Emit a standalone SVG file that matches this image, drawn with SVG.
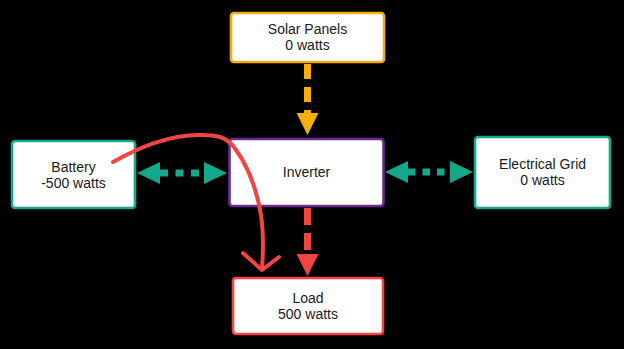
<svg xmlns="http://www.w3.org/2000/svg" width="624" height="349" viewBox="0 0 624 349">
<style>
.box{fill:#ffffff;stroke-width:2.6}
.lbl{font-family:"Liberation Sans",Arial,sans-serif;font-size:14px;fill:#1a1a1a;text-anchor:middle}
.orange{stroke:#F7AE0B}
.teal{stroke:#13A98A}
.purple{stroke:#6A2A8F}
.red{stroke:#F44343}
</style>
<defs>
<marker id="hOrange" viewBox="0 0 22 22" markerWidth="22" markerHeight="22" refX="0" refY="11" orient="auto-start-reverse" markerUnits="userSpaceOnUse"><path d="M0,0 L22,11 L0,22 z" fill="#F7AE0B"/></marker>
<marker id="hTeal" viewBox="0 0 23 22" markerWidth="23" markerHeight="22" refX="0" refY="11" orient="auto-start-reverse" markerUnits="userSpaceOnUse"><path d="M0,0 L23,11 L0,22 z" fill="#13A98A"/></marker>
<marker id="hRed" viewBox="0 0 22 22" markerWidth="22" markerHeight="22" refX="0" refY="11" orient="auto-start-reverse" markerUnits="userSpaceOnUse"><path d="M0,0 L22,11 L0,22 z" fill="#F44343"/></marker>
</defs>
<rect x="0" y="0" width="624" height="349" fill="#000000"/>
<g id="connectors">
<line x1="307.5" y1="64" x2="307.5" y2="113" stroke="#F7AE0B" stroke-width="7" stroke-dasharray="15 8" marker-end="url(#hOrange)"/>
<line x1="160" y1="173" x2="204" y2="173" stroke="#13A98A" stroke-width="7" stroke-dasharray="8 7.5" marker-start="url(#hTeal)" marker-end="url(#hTeal)"/>
<line x1="408" y1="172" x2="450" y2="172" stroke="#13A98A" stroke-width="7" stroke-dasharray="7.5 7" marker-start="url(#hTeal)" marker-end="url(#hTeal)"/>
<line x1="307.5" y1="208" x2="307.5" y2="254" stroke="#F44343" stroke-width="7" stroke-dasharray="17 8" marker-end="url(#hRed)"/>
</g>
<g id="solar">
<rect class="box orange" x="231" y="13" width="153" height="49" rx="3"/>
<text class="lbl" x="307.5" y="34">Solar Panels</text>
<text class="lbl" x="307.5" y="50">0 watts</text>
</g>
<g id="battery">
<rect class="box teal" x="12" y="141" width="123" height="67" rx="3"/>
<text class="lbl" x="73.5" y="172">Battery</text>
<text class="lbl" x="73.5" y="188">-500 watts</text>
</g>
<g id="inverter">
<rect class="box purple" x="229.5" y="139" width="154" height="67" rx="3"/>
<text class="lbl" x="306.5" y="177">Inverter</text>
</g>
<g id="grid">
<rect class="box teal" x="475" y="137" width="135" height="71" rx="3"/>
<text class="lbl" x="542.5" y="169">Electrical Grid</text>
<text class="lbl" x="542.5" y="185">0 watts</text>
</g>
<g id="load">
<rect class="box red" x="233" y="278" width="150" height="56" rx="3"/>
<text class="lbl" x="308" y="303">Load</text>
<text class="lbl" x="308" y="319">500 watts</text>
</g>
<g id="annotation" fill="none" stroke="#F44343" stroke-width="4" stroke-linecap="round" stroke-linejoin="round">
<path d="M113,162 C140,147 168,135 200,135 C218,135 226,137 234,147 C246,163 256,185 261,215 C264,235 263,255 262,269"/>
<polyline points="243,253 262,270 279,257"/>
</g>
</svg>
